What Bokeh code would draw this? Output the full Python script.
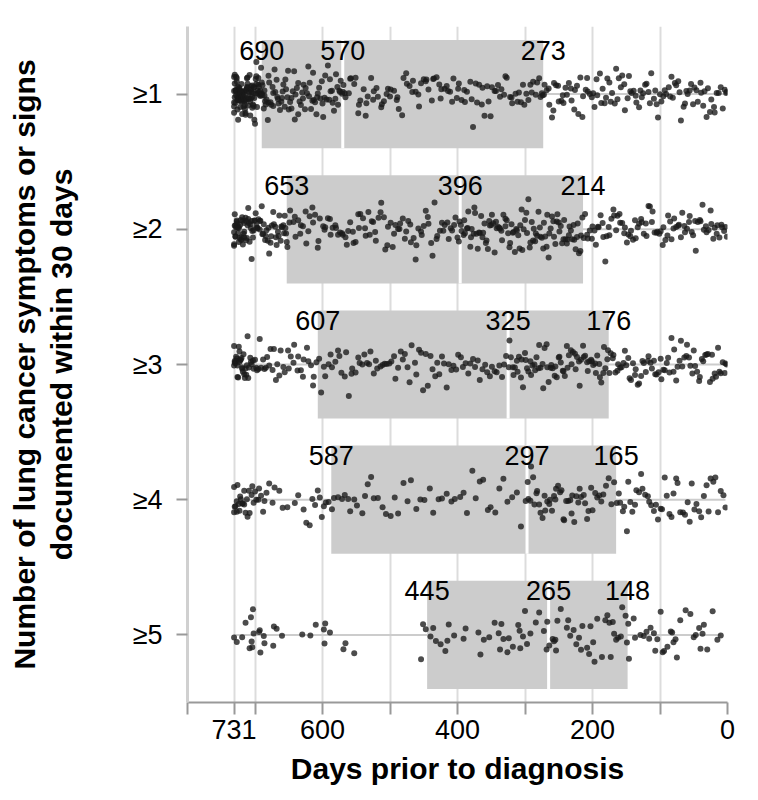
from bokeh.plotting import figure
from bokeh.models import Range1d, FixedTicker, ColumnDataSource
from bokeh.transform import jitter
from bokeh.core.properties import value
from bokeh.embed import file_html
from bokeh.resources import INLINE

# ---------------- data ----------------
categories = ["≥1", "≥2", "≥3", "≥4", "≥5"]
rows = [1, 2, 3, 4, 5]
q_left = [690, 653, 607, 587, 445]     # 25% of patients earlier than this
q_median = [570, 396, 325, 297, 265]
q_right = [273, 214, 176, 165, 148]    # 75% of patients earlier than this
x_ticks = [800, 731, 700, 600, 500, 400, 300, 200, 100, 0]
x_tick_labels = ["", "731", "", "600", "", "400", "", "200", "", "0"]

days_ge1 = [
    731,731,731,731,731,730,730,730,729,729,728,728,728,728,727,727,726,726,726,726,725,725,724,724,724,723,723,723,723,722,
    722,721,721,721,720,720,720,720,719,719,718,718,718,717,717,717,716,716,715,715,715,715,714,714,713,713,713,712,712,711,
    711,711,710,710,709,709,709,708,708,707,707,706,706,706,705,704,704,704,703,703,702,702,701,701,701,700,699,699,698,698,
    698,697,696,696,695,695,694,694,693,692,692,691,691,690,690,
    689,689,687,686,686,685,684,683,681,680,680,679,677,676,674,673,673,671,670,668,667,666,665,663,661,660,659,658,656,655,
    654,652,651,650,648,646,646,644,642,641,640,638,636,636,634,632,630,629,628,626,625,623,621,620,619,617,615,614,613,611,
    609,608,607,605,603,601,600,599,597,596,594,592,590,589,588,586,585,583,581,580,578,577,575,574,573,571,570,
    569,567,566,561,559,558,553,551,547,546,544,539,536,535,533,528,525,524,520,518,513,512,509,505,503,500,499,494,490,489,
    487,482,480,476,475,471,467,466,462,458,457,454,450,447,446,443,438,436,435,431,427,425,424,419,416,414,411,408,406,401,
    399,398,394,390,389,386,381,379,377,373,371,368,364,363,360,356,354,351,349,345,343,340,337,335,331,329,327,322,320,319,
    314,311,309,306,303,301,298,295,292,290,288,284,282,279,277,275,274,
    272,271,268,265,264,260,258,257,254,251,250,246,244,243,240,238,235,232,231,227,226,223,221,218,215,214,210,208,207,204,
    201,199,197,194,193,189,187,185,182,180,178,175,173,171,167,165,163,161,158,156,153,152,148,146,144,142,139,136,135,131,
    129,127,125,122,120,117,115,113,109,107,105,103,100,98,95,93,91,87,85,83,81,78,76,73,71,69,65,63,61,59,
    56,54,51,49,46,44,40,39,36,34,31,29,26,24,20,19,16,13,10,7,4,2,1,
]
days_ge2 = [
    731,731,731,730,730,729,729,729,728,727,727,726,726,725,724,724,724,723,722,721,721,720,720,719,718,718,717,716,716,716,
    714,713,713,712,711,710,710,709,708,707,706,705,705,704,703,702,701,700,699,698,697,696,695,693,693,692,690,689,688,687,
    685,684,683,681,680,679,677,676,675,673,672,670,669,668,666,665,664,662,661,660,658,657,656,655,654,653,
    652,649,648,643,641,640,636,633,632,629,625,624,621,619,615,614,611,607,606,604,599,597,596,592,589,588,585,581,580,577,
    574,571,570,566,564,562,559,555,554,551,547,546,544,540,537,536,532,530,527,525,522,521,517,514,513,509,507,504,503,499,
    496,494,492,488,486,485,481,478,476,473,470,469,465,462,461,458,454,453,450,447,444,443,439,437,434,431,430,426,423,421,
    419,415,413,410,408,405,403,400,398,397,
    395,394,391,390,389,386,385,384,381,380,379,376,375,374,372,370,368,367,365,363,362,360,358,357,355,353,352,350,349,347,
    345,343,342,340,338,337,335,334,332,329,329,327,325,323,322,320,318,317,315,313,312,310,308,307,305,304,302,300,298,297,
    295,293,292,290,288,287,285,284,282,280,278,277,275,273,272,270,268,267,265,264,262,260,258,257,255,253,252,250,249,247,
    245,243,242,240,238,237,235,234,232,230,228,227,225,223,222,220,218,217,215,
    213,211,208,207,204,201,200,197,195,192,191,188,185,184,181,179,176,175,172,169,168,165,163,160,159,156,153,152,149,147,
    144,143,140,137,136,133,131,128,127,124,121,120,117,115,112,111,108,105,104,101,99,96,95,92,89,88,85,83,80,79,
    76,73,72,69,67,64,63,60,57,56,53,51,48,47,44,41,40,37,35,32,31,28,25,24,21,19,16,15,12,9,8,5,3,1,
]
days_ge3 = [
    731,731,730,730,729,728,728,727,726,726,725,724,723,723,722,721,720,719,719,718,717,716,715,714,713,712,711,710,709,707,
    706,705,703,702,700,698,697,695,693,691,688,686,684,682,679,677,674,672,669,667,664,662,658,656,651,650,647,643,642,637,
    636,632,629,628,623,621,617,614,613,609,
    605,602,598,596,591,588,586,581,577,575,572,567,565,561,557,556,551,547,545,541,538,534,531,529,524,521,519,514,511,508,
    505,501,498,494,492,488,484,481,478,474,471,468,463,461,457,454,451,447,444,440,437,433,430,427,423,420,416,413,409,406,
    402,399,395,392,388,384,381,377,374,370,367,363,359,356,352,349,345,342,338,334,331,328,
    324,323,321,318,317,315,312,311,309,306,305,303,300,299,297,295,292,291,289,286,285,283,280,279,277,274,273,271,268,267,
    265,262,261,259,256,255,253,250,249,247,244,243,241,238,237,235,232,231,229,226,225,223,220,219,217,214,213,211,208,207,
    205,202,201,199,196,195,193,190,189,187,184,183,181,178,177,
    175,173,170,169,166,163,162,159,157,154,152,150,147,145,143,140,137,136,133,131,128,126,124,121,118,117,114,112,109,107,
    105,102,99,98,95,93,90,88,86,83,80,79,76,74,71,69,67,64,61,60,57,55,52,50,48,45,42,41,38,36,
    33,31,29,26,23,22,19,17,14,12,10,7,4,3,1,
]
days_ge4 = [
    731,731,730,729,727,727,726,724,723,722,721,719,718,716,716,714,712,711,709,708,705,704,702,700,698,695,694,691,688,686,
    683,679,674,671,664,659,652,641,636,628,624,619,615,611,607,604,601,598,595,591,
    586,583,577,571,567,562,559,553,549,541,537,533,528,524,518,511,506,499,493,488,480,474,469,461,455,449,441,436,428,423,
    416,409,404,396,391,386,378,373,367,362,355,351,344,338,332,326,319,312,306,299,
    296,295,292,291,288,286,283,282,279,277,274,271,270,267,264,263,260,257,255,254,251,248,246,243,242,239,236,233,231,230,
    227,224,221,219,217,213,211,208,206,202,200,196,193,190,187,184,180,176,172,168,
    164,161,159,155,153,149,147,144,141,137,135,131,128,126,122,118,116,113,109,106,103,99,97,93,90,86,83,80,76,74,
    70,66,63,59,56,53,49,46,42,39,35,31,28,25,21,18,14,10,6,3,
]
days_ge5 = [
    731,727,719,714,708,706,705,704,703,702,694,693,692,687,686,673,672,668,660,630,618,610,598,597,596,589,569,566,553,454,
    451,447,
    440,436,432,425,418,415,413,405,391,388,369,366,361,353,345,339,337,335,332,326,324,318,310,308,307,303,300,297,292,284,
    279,272,268,267,
    264,259,257,255,254,252,247,238,236,233,228,224,220,217,215,208,205,203,199,197,193,186,181,178,175,173,170,168,165,162,
    158,156,151,149,
    147,146,139,137,129,124,120,116,114,109,107,104,99,96,94,89,84,82,80,77,75,70,62,55,50,47,42,40,37,35,
    30,22,15,10,
]
all_days = [days_ge1, days_ge2, days_ge3, days_ge4, days_ge5]

# ---------------- sources ----------------
px, py = [], []
for r, d in zip(rows, all_days):
    px.extend(d)
    py.extend([r] * len(d))
pts = ColumnDataSource(dict(x=px, y=py))

boxes = ColumnDataSource(dict(
    left=q_left, right=q_right, med=q_median,
    top=[r - 0.4 for r in rows], bottom=[r + 0.4 for r in rows],
    ty=[r - 0.325 for r in rows], y=rows,
    lmax=[max(d) for d in all_days], lmin=[min(d) for d in all_days],
    tl=[str(v) for v in q_left], tm=[str(v) for v in q_median], tr=[str(v) for v in q_right],
))

FONT = "Liberation Sans"

p = figure(frame_width=540, frame_height=676,
           x_range=Range1d(800, 0), y_range=Range1d(5.5, 0.5),
           output_backend="svg", toolbar_location=None,
           min_border_left=187, min_border_top=26, min_border_right=14, min_border_bottom=84)
p.outline_line_color = None
p.background_fill_color = "white"

# grid
p.xgrid.ticker = FixedTicker(ticks=x_ticks)
p.xgrid.grid_line_color = "#dcdcdc"
p.xgrid.grid_line_width = 2
p.ygrid.grid_line_color = None

# x axis
p.xaxis.ticker = FixedTicker(ticks=x_ticks)
p.xaxis.major_label_overrides = {t: lab for t, lab in zip(x_ticks, x_tick_labels)}
p.xaxis.axis_line_color = "#999999"
p.xaxis.axis_line_width = 2
p.xaxis.major_tick_line_color = "#999999"
p.xaxis.major_tick_line_width = 2
p.xaxis.major_tick_out = 12
p.xaxis.major_tick_in = 0
p.xaxis.minor_tick_line_color = None
p.xaxis.major_label_text_font = FONT
p.xaxis.major_label_text_font_size = "27px"
p.xaxis.major_label_text_color = "black"
p.xaxis.major_label_standoff = 5
p.xaxis.axis_label = "Days prior to diagnosis"
p.xaxis.axis_label_text_font = FONT
p.xaxis.axis_label_text_font_style = "bold"
p.xaxis.axis_label_text_font_size = "30px"
p.xaxis.axis_label_text_color = "black"
p.xaxis.axis_label_standoff = 10

# y axis
p.yaxis.ticker = FixedTicker(ticks=rows)
p.yaxis.major_label_overrides = {r: c for r, c in zip(rows, categories)}
p.yaxis.axis_line_color = "#d0d0d0"
p.yaxis.axis_line_width = 3
p.yaxis.major_tick_line_color = "#999999"
p.yaxis.major_tick_line_width = 2
p.yaxis.major_tick_out = 11
p.yaxis.major_tick_in = 0
p.yaxis.minor_tick_line_color = None
p.yaxis.major_label_text_font = FONT
p.yaxis.major_label_text_font_size = "27px"
p.yaxis.major_label_text_color = "black"
p.yaxis.major_label_standoff = 14
p.yaxis.axis_label = "Number of lung cancer symptoms or signs\ndocumented within 30 days"
p.yaxis.axis_label_text_font = FONT
p.yaxis.axis_label_text_font_style = "bold"
p.yaxis.axis_label_text_font_size = "30px"
p.yaxis.axis_label_text_color = "black"
p.yaxis.axis_label_text_align = "center"
p.yaxis.axis_label_text_line_height = 1.1
p.yaxis.axis_label_standoff = 52

# row range lines
p.segment(x0="lmax", x1="lmin", y0="y", y1="y", source=boxes, line_color="#cccccc", line_width=2)
# boxes
p.quad(left="left", right="right", top="top", bottom="bottom", source=boxes,
       fill_color="#cccccc", line_color=None)
p.segment(x0="med", x1="med", y0="top", y1="bottom", source=boxes, line_color="white", line_width=3)

# points
p.scatter(x="x", y=jitter("y", width=0.08, distribution="normal"), source=pts,
          size=6, fill_color="#1a1a1a", fill_alpha=0.78, line_color=None)

# labels
for col_x, col_t in (("left", "tl"), ("med", "tm"), ("right", "tr")):
    p.text(x=col_x, y="ty", text=col_t, source=boxes,
           text_font=value(FONT), text_font_size="27px", text_color="black",
           text_align="center", text_baseline="alphabetic")

open("out.html", "w").write(file_html(p, INLINE))
